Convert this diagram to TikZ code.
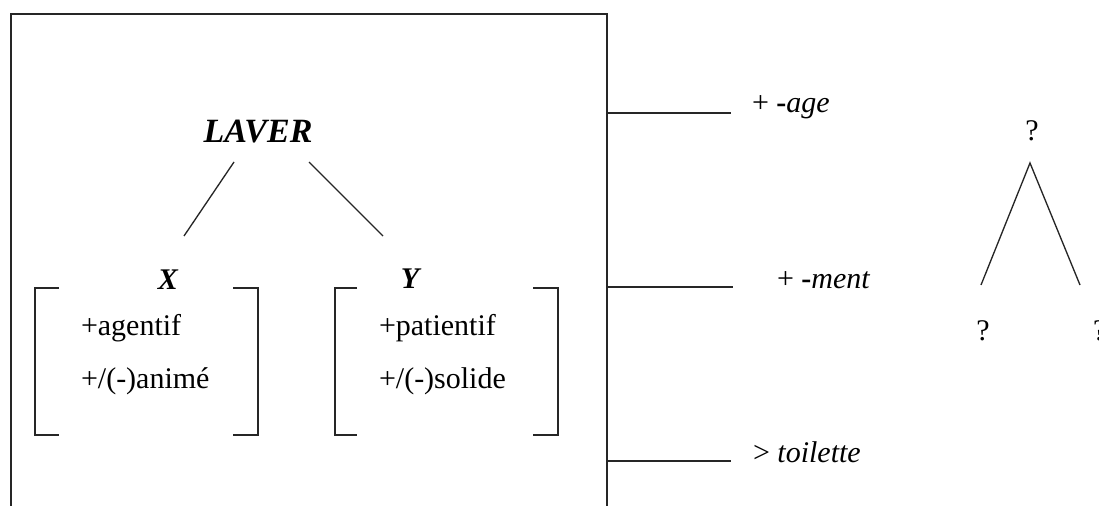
\documentclass[tikz,border=0pt]{standalone}
\usepackage{fontspec}
\setmainfont{Liberation Serif}
\begin{document}
\begin{tikzpicture}[x=0.75pt,y=-0.75pt,
  every node/.style={inner sep=0pt,outer sep=0pt,font=\fontsize{22.5}{27}\selectfont},
  rule/.style={line width=1pt,draw=black!85},
  head/.style={font=\fontsize{25.5}{30}\selectfont\bfseries\itshape},
  arg/.style={font=\fontsize{22.5}{27}\selectfont\bfseries\itshape,anchor=base},
  feat/.style={anchor=base west},
  suffix/.style={anchor=base west}]
\useasboundingbox (0,0) rectangle (1099,506);

% frame around the lexical entry (open at the bottom)
\draw[rule] (11,520) -- (11,14) -- (607,14) -- (607,520);

% verb and its two arguments
\node[head,anchor=base] (laver) at (258,143) {LAVER};
\coordinate (lA) at (234,162);
\coordinate (lB) at (184,236);
\coordinate (rA) at (309,162);
\coordinate (rB) at (383,236);
\draw[rule] (lA) -- (lB);
\draw[rule] (rA) -- (rB);

\node[arg] (x) at (168,289) {X};
\node[arg] (y) at (410,288) {Y};

% feature matrices
\draw[rule] (59,288) -| (35,435) -- (59,435);
\draw[rule] (233,288) -| (258,435) -- (233,435);
\draw[rule] (357,288) -| (335,435) -- (357,435);
\draw[rule] (533,288) -| (558,435) -- (533,435);

\node[feat] (xa) at (81,335) {+agentif};
\node[feat] (xb) at (81,388) {+/(-)animé};
\node[feat] (ya) at (379,335) {+patientif};
\node[feat] (yb) at (379,388) {+/(-)solide};

% derivations
\coordinate (d1) at (607,113);
\coordinate (d2) at (607,287);
\coordinate (d3) at (607,461);
\node[suffix] (age) at (752,113) {+ {\bfseries -}\textit{age}};
\node[suffix] (ment) at (777,288) {+ {\bfseries -}\textit{ment}};
\node[suffix] (toil) at (753,462) {> \textit{toilette}};
\draw[rule] (d1) -- (731,113);
\draw[rule] (d2) -- (733,287);
\draw[rule] (d3) -- (731,461);

% open tree
\node[anchor=base] (q0) at (1032,141) {?};
\node[anchor=base] (q1) at (983,340) {?};
\node[anchor=base west] (q2) at (1093,340) {?};
\coordinate (t0) at (1030,163);
\coordinate (t1) at (981,285);
\coordinate (t2) at (1080,285);
\draw[rule] (t1) -- (t0) -- (t2);
\end{tikzpicture}
\end{document}
